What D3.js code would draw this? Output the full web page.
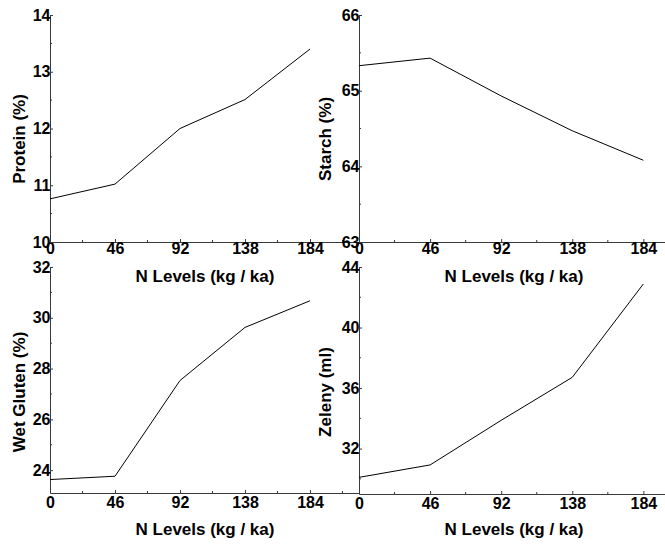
<!DOCTYPE html>
<html>
<head>
<meta charset="utf-8">
<script src="https://cdn.jsdelivr.net/npm/d3@7"></script>
<style>
  html, body { margin: 0; padding: 0; background: #fff; }
  svg { display: block; font-family: "Liberation Sans", Arial, sans-serif; }
</style>
</head>
<body>
<svg id="chart" width="665" height="544"></svg>
<script>
// ---- data ----
const nLevels   = [0, 46, 92, 138, 184];
const protein   = [10.76, 11.02, 12.0, 12.51, 13.4];
const starch    = [65.33, 65.43, 64.93, 64.47, 64.08];
const wetGluten = [23.63, 23.76, 27.53, 29.62, 30.67];
const zeleny    = [30.1, 30.92, 33.87, 36.71, 42.88];

const xTicks        = [0, 46, 92, 138, 184];
const xMinorLeft    = [23, 69, 115, 161, 207];
const xMinorRight   = [23, 69, 115, 161];
const proteinTicks  = [10, 11, 12, 13, 14];
const proteinMinor  = [10.5, 11.5, 12.5, 13.5];
const starchTicks   = [63, 64, 65, 66];
const starchMinor   = [63.5, 64.5, 65.5];
const glutenTicks   = [24, 26, 28, 30, 32];
const glutenMinor   = [25, 27, 29, 31];
const zelenyTicks   = [32, 36, 40, 44];
const zelenyMinor   = [30, 34, 38, 42];

const xTitle = "N Levels (kg / ka)";

// ---- layout ----
const panels = [
  { values: protein,   yTitle: "Protein (%)",    yDomain: [10, 14],   yRange: [242, 15],
    xDomain: [0, 218.7], xRange: [50, 359],  yTicks: proteinTicks, yMinor: proteinMinor,
    xMinor: xMinorLeft, xPad: 1, titleX: 205, titleY: 282, yTitleX: 25, yTitleY: 139 },
  { values: starch,    yTitle: "Starch (%)",     yDomain: [63, 66],   yRange: [242, 15],
    xDomain: [0, 198],   xRange: [359, 665], yTicks: starchTicks, yMinor: starchMinor,
    xMinor: xMinorRight, xPad: 1, titleX: 514, titleY: 282, yTitleX: 331, yTitleY: 139 },
  { values: wetGluten, yTitle: "Wet Gluten (%)", yDomain: [23.1, 32], yRange: [493, 267],
    xDomain: [0, 218.7], xRange: [50, 359],  yTicks: glutenTicks, yMinor: glutenMinor,
    xMinor: xMinorLeft, xPad: 4, titleX: 205, titleY: 535, yTitleX: 25, yTitleY: 392 },
  { values: zeleny,    yTitle: "Zeleny (ml)",    yDomain: [29, 44],   yRange: [494, 267],
    xDomain: [0, 198],   xRange: [359, 665], yTicks: zelenyTicks, yMinor: zelenyMinor,
    xMinor: xMinorRight, xPad: 4, titleX: 514, titleY: 535, yTitleX: 331, yTitleY: 392 }
];

const svg = d3.select("#chart");
const axisColor = "#3a3a3a";

panels.forEach(p => {
  const x = d3.scaleLinear().domain(p.xDomain).range(p.xRange);
  const y = d3.scaleLinear().domain(p.yDomain).range(p.yRange);
  const g = svg.append("g");
  const x0 = p.xRange[0], yBase = p.yRange[0];

  // x axis
  const xa = g.append("g").attr("transform", `translate(0,${yBase})`)
    .call(d3.axisBottom(x).tickValues(xTicks).tickSizeInner(-3).tickSizeOuter(0)
      .tickPadding(p.xPad).tickFormat(d3.format("d")));
  xa.append("g").selectAll("line").data(p.xMinor).join("line")
    .attr("x1", d => x(d)).attr("x2", d => x(d)).attr("y1", 0).attr("y2", -2)
    .attr("stroke", axisColor);

  // y axis
  const ya = g.append("g").attr("transform", `translate(${x0},0)`)
    .call(d3.axisLeft(y).tickValues(p.yTicks).tickSizeInner(-3).tickSizeOuter(0)
      .tickPadding(-0.5).tickFormat(d3.format("d")));
  ya.append("g").selectAll("line").data(p.yMinor).join("line")
    .attr("y1", d => y(d)).attr("y2", d => y(d)).attr("x1", 0).attr("x2", 2)
    .attr("stroke", axisColor);

  [xa, ya].forEach(a => {
    a.select(".domain").attr("stroke", axisColor).attr("stroke-width", 1);
    a.selectAll(".tick line").attr("stroke", axisColor);
    a.selectAll(".tick text").attr("fill", "#000").attr("font-size", 16)
      .attr("font-weight", "bold").attr("font-family", "'Liberation Sans', Arial, sans-serif");
  });

  // line
  const line = d3.line().x((d, i) => x(nLevels[i])).y(d => y(d));
  g.append("path").datum(p.values).attr("d", line)
    .attr("fill", "none").attr("stroke", "#000").attr("stroke-width", 1);

  // titles
  g.append("text").attr("x", p.titleX).attr("y", p.titleY)
    .attr("text-anchor", "middle").attr("font-size", 17).attr("font-weight", "bold")
    .text(xTitle);
  g.append("text").attr("transform", `translate(${p.yTitleX},${p.yTitleY}) rotate(-90)`)
    .attr("text-anchor", "middle").attr("font-size", 17).attr("font-weight", "bold")
    .text(p.yTitle);
});
</script>
</body>
</html>
